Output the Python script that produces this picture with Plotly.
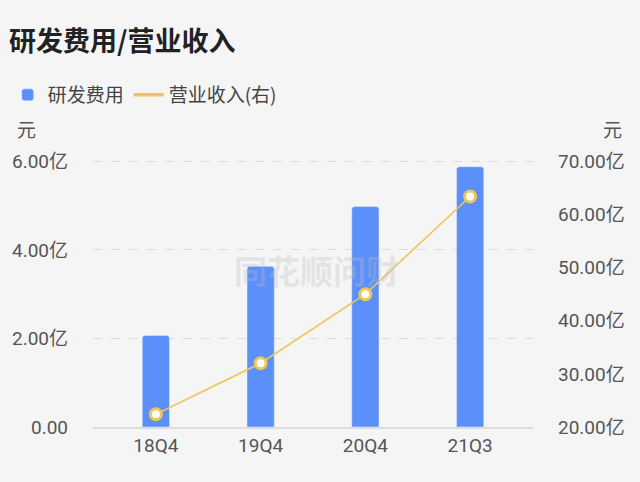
import plotly.graph_objects as go

# ── Data ───────────────────────────────────────────────────────────────────
quarters = ["18Q4", "19Q4", "20Q4", "21Q3"]
rd_expense = [2.07, 3.63, 4.98, 5.88]        # 亿元, left axis
revenue = [22.4, 32.0, 45.0, 63.4]           # 亿元, right axis

left_ticks = [0, 2, 4, 6]
left_labels = ["0.00", "2.00亿", "4.00亿", "6.00亿"]
right_ticks = [20, 30, 40, 50, 60, 70]
right_labels = ["20.00亿", "30.00亿", "40.00亿", "50.00亿", "60.00亿", "70.00亿"]

BLUE = "#5b8ff9"
GOLD = "#ecc65c"
FONT = "Roboto, Noto Sans CJK SC, sans-serif"
CJK = "Noto Sans CJK SC"
TICK_COLOR = "#555555"

# a little headroom above the top tick so its gridline is drawn
Y_TOP = 6.1
Y2_TOP = 20 + 50 * Y_TOP / 6

# plot area in pixels (for placing the free text)
L, R, B = 93, 533, 427
T = round(B - (B - 161) * Y_TOP / 6)


def px_to_paper(px, py):
    return (px - L) / (R - L), (B - py) / (B - T)


fig = go.Figure()

fig.add_trace(go.Bar(
    x=quarters, y=rd_expense, name="研发费用",
    marker=dict(color=BLUE, cornerradius=3),
    width=0.26,
))
fig.add_trace(go.Scatter(
    x=quarters, y=revenue, name="营业收入(右)", yaxis="y2",
    mode="lines+markers", showlegend=False,
    line=dict(color=GOLD, width=1.6),
    marker=dict(size=11, color="white", line=dict(color=GOLD, width=3)),
))
# legend entry only (plain line, no marker), like the original legend
fig.add_trace(go.Scatter(
    x=[None], y=[None], name="营业收入(右)", yaxis="y2",
    mode="lines", line=dict(color=GOLD, width=3.5), hoverinfo="skip",
))

# watermark
wx, wy = px_to_paper(316, 270)
fig.add_annotation(
    text="<b>同花顺问财</b>", x=wx, y=wy, xref="paper", yref="paper",
    showarrow=False, font=dict(size=33, color="rgba(190,190,190,0.33)", family=CJK),
)
# axis unit labels
for ux in (26, 612):
    ax, ay = px_to_paper(ux, 128)
    fig.add_annotation(
        text="元", x=ax, y=ay, xref="paper", yref="paper",
        showarrow=False, font=dict(size=19, color=TICK_COLOR, family=CJK),
        xanchor="center", yanchor="middle",
    )

fig.update_layout(
    width=640, height=482,
    paper_bgcolor="#f5f5f5", plot_bgcolor="#f5f5f5",
    margin=dict(l=L, r=640 - R, t=T, b=482 - B),
    font=dict(family=FONT, color=TICK_COLOR, size=19),
    title=dict(
        text="<b>研发费用/营业收入</b>", xref="container", yref="container",
        x=0.014, y=1 - 42 / 482, xanchor="left", yanchor="middle",
        font=dict(size=27, color="#222222", family=CJK),
    ),
    legend=dict(
        orientation="h", xref="container", yref="container",
        x=0.012, y=1 - 95 / 482, xanchor="left", yanchor="middle",
        font=dict(size=19, color="#444444", family=CJK),
        bgcolor="rgba(0,0,0,0)", itemwidth=30, traceorder="normal",
    ),
    showlegend=True,
    xaxis=dict(
        range=[-0.6, 3.6], showgrid=False, showline=True,
        linecolor="#dddddd", linewidth=1.5, ticks="",
        tickfont=dict(size=19, color=TICK_COLOR), fixedrange=True,
    ),
    yaxis=dict(
        range=[0, Y_TOP], tickvals=left_ticks, ticktext=left_labels,
        showgrid=True, gridcolor="#dcdcdc", griddash="dash", gridwidth=1,
        zeroline=False, ticks="", ticklabelstandoff=24,
        tickfont=dict(size=19, color=TICK_COLOR),
    ),
    yaxis2=dict(
        range=[20, Y2_TOP], tickvals=right_ticks, ticktext=right_labels,
        overlaying="y", side="right", showgrid=False, zeroline=False,
        ticks="", ticklabelstandoff=24,
        tickfont=dict(size=19, color=TICK_COLOR),
    ),
)

fig.write_html(
    "out.html",
    config={"displayModeBar": False},
    post_script="document.body.style.margin='0';document.body.style.overflow='hidden';",
)
